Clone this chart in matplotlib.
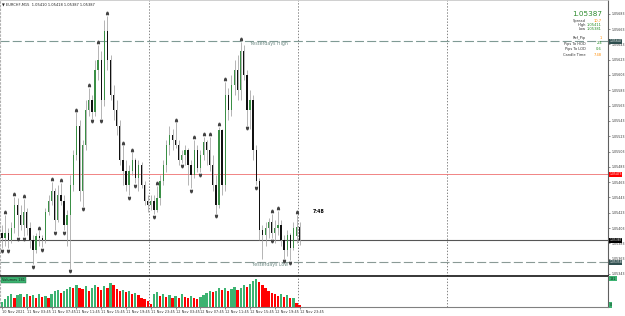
import matplotlib
matplotlib.use("Agg")
import matplotlib.pyplot as plt
import matplotlib.transforms as mtransforms
import numpy as np

# EURCHF M15 chart (one candle per half hour)
opens = [1.05397, 1.05390, 1.05397, 1.05387, 1.05403, 1.05433, 1.05420, 1.05407, 1.05424, 1.05403,
         1.05387, 1.05374, 1.05392, 1.05390, 1.05387, 1.05424, 1.05439, 1.05452, 1.05413, 1.05446,
         1.05439, 1.05407, 1.05420, 1.05459, 1.05498, 1.05537, 1.05452, 1.05511, 1.05557, 1.05570,
         1.05554, 1.05609, 1.05622, 1.05570, 1.05661, 1.05622, 1.05577, 1.05557, 1.05537, 1.05492,
         1.05478, 1.05459, 1.05478, 1.05492, 1.05468, 1.05485, 1.05459, 1.05439, 1.05433, 1.05439,
         1.05426, 1.05442, 1.05465, 1.05485, 1.05511, 1.05524, 1.05518, 1.05511, 1.05492, 1.05498,
         1.05505, 1.05485, 1.05472, 1.05505, 1.05481, 1.05498, 1.05515, 1.05505, 1.05485, 1.05459,
         1.05433, 1.05531, 1.05459, 1.05577, 1.05557, 1.05590, 1.05609, 1.05583, 1.05635, 1.05603,
         1.05557, 1.05570, 1.05505, 1.05465, 1.05400, 1.05394, 1.05403, 1.05411, 1.05397, 1.05403,
         1.05407, 1.05387, 1.05374, 1.05394, 1.05377, 1.05392, 1.05404]
highs = [1.05407, 1.05420, 1.05403, 1.05411, 1.05444, 1.05442, 1.05433, 1.05441, 1.05429, 1.05411,
         1.05394, 1.05397, 1.05400, 1.05394, 1.05429, 1.05446, 1.05463, 1.05455, 1.05459, 1.05462,
         1.05446, 1.05426, 1.05472, 1.05505, 1.05554, 1.05544, 1.05518, 1.05570, 1.05586, 1.05577,
         1.05622, 1.05642, 1.05635, 1.05675, 1.05680, 1.05629, 1.05590, 1.05570, 1.05544, 1.05511,
         1.05492, 1.05485, 1.05502, 1.05494, 1.05492, 1.05489, 1.05465, 1.05446, 1.05446, 1.05446,
         1.05458, 1.05472, 1.05492, 1.05518, 1.05537, 1.05533, 1.05541, 1.05518, 1.05505, 1.05511,
         1.05507, 1.05492, 1.05518, 1.05511, 1.05505, 1.05522, 1.05518, 1.05522, 1.05498, 1.05472,
         1.05535, 1.05533, 1.05594, 1.05586, 1.05603, 1.05622, 1.05629, 1.05646, 1.05642, 1.05609,
         1.05583, 1.05577, 1.05511, 1.05468, 1.05407, 1.05411, 1.05416, 1.05421, 1.05413, 1.05425,
         1.05413, 1.05394, 1.05400, 1.05396, 1.05411, 1.05420, 1.05411]
lows = [1.05377, 1.05380, 1.05377, 1.05384, 1.05397, 1.05392, 1.05400, 1.05392, 1.05394, 1.05377,
        1.05356, 1.05371, 1.05380, 1.05378, 1.05384, 1.05420, 1.05433, 1.05400, 1.05411, 1.05433,
        1.05400, 1.05380, 1.05350, 1.05452, 1.05492, 1.05439, 1.05431, 1.05505, 1.05550, 1.05546,
        1.05550, 1.05596, 1.05546, 1.05563, 1.05609, 1.05570, 1.05544, 1.05524, 1.05485, 1.05459,
        1.05452, 1.05446, 1.05472, 1.05462, 1.05452, 1.05455, 1.05433, 1.05424, 1.05426, 1.05421,
        1.05424, 1.05433, 1.05459, 1.05476, 1.05498, 1.05505, 1.05507, 1.05485, 1.05488, 1.05485,
        1.05459, 1.05455, 1.05468, 1.05476, 1.05476, 1.05492, 1.05485, 1.05478, 1.05452, 1.05422,
        1.05429, 1.05446, 1.05452, 1.05544, 1.05550, 1.05577, 1.05570, 1.05570, 1.05596, 1.05537,
        1.05533, 1.05492, 1.05459, 1.05387, 1.05363, 1.05380, 1.05390, 1.05390, 1.05384, 1.05394,
        1.05380, 1.05363, 1.05367, 1.05361, 1.05374, 1.05384, 1.05381]
closes = [1.05390, 1.05397, 1.05387, 1.05403, 1.05433, 1.05420, 1.05407, 1.05424, 1.05403, 1.05387,
          1.05374, 1.05392, 1.05390, 1.05387, 1.05424, 1.05439, 1.05452, 1.05413, 1.05446, 1.05439,
          1.05407, 1.05420, 1.05459, 1.05498, 1.05537, 1.05452, 1.05511, 1.05557, 1.05570, 1.05554,
          1.05609, 1.05622, 1.05570, 1.05661, 1.05622, 1.05577, 1.05557, 1.05537, 1.05492, 1.05478,
          1.05459, 1.05478, 1.05492, 1.05468, 1.05485, 1.05459, 1.05439, 1.05433, 1.05439, 1.05426,
          1.05442, 1.05465, 1.05485, 1.05511, 1.05524, 1.05518, 1.05511, 1.05492, 1.05498, 1.05505,
          1.05485, 1.05472, 1.05505, 1.05481, 1.05498, 1.05515, 1.05505, 1.05485, 1.05459, 1.05433,
          1.05531, 1.05459, 1.05577, 1.05557, 1.05590, 1.05609, 1.05583, 1.05635, 1.05603, 1.05557,
          1.05570, 1.05505, 1.05465, 1.05400, 1.05394, 1.05403, 1.05411, 1.05397, 1.05403, 1.05407,
          1.05387, 1.05374, 1.05394, 1.05377, 1.05403, 1.05404, 1.05387]
volumes = [30, 55, 72, 82, 62, 78, 88, 66, 82, 72,
           78, 62, 88, 66, 72, 56, 82, 102, 112, 92,
           108, 118, 132, 126, 142, 122, 116, 138, 106, 126,
           146, 132, 112, 138, 122, 160, 142, 116, 106, 112,
           96, 102, 82, 92, 76, 60, 50, 38, 18, 82,
           96, 72, 86, 66, 76, 56, 72, 62, 82, 66,
           56, 72, 62, 50, 66, 76, 92, 106, 96, 102,
           122, 112, 126, 106, 116, 132, 112, 122, 142, 132,
           150, 168, 181, 162, 142, 122, 106, 92, 82, 72,
           86, 66, 76, 56, 60, 26, 12]
fractal_up = [1, 4, 7, 12, 16, 19, 24, 28, 31, 34, 39, 42, 50, 56, 62, 65, 67, 70, 72, 77, 87, 89, 95]
fractal_down = [0, 2, 5, 7, 10, 13, 17, 20, 22, 26, 29, 32, 41, 43, 49, 58, 61, 64, 69, 79, 82, 87, 91, 93]
day_starts = [48, 96, 144]

time_labels = ["10 Nov 2021", "11 Nov 03:45", "11 Nov 07:45", "11 Nov 11:45", "11 Nov 15:45",
               "11 Nov 19:45", "11 Nov 23:45", "12 Nov 03:45", "12 Nov 07:45", "12 Nov 11:45",
               "12 Nov 15:45", "12 Nov 19:45", "12 Nov 23:45"]
time_label_idx = [0, 8, 16, 24, 32, 40, 48, 56, 64, 72, 80, 88, 96]
price_ticks = [1.05343, 1.05363, 1.05383, 1.05403, 1.05423, 1.05443, 1.05463, 1.05483, 1.05503,
               1.05523, 1.05543, 1.05563, 1.05583, 1.05603, 1.05623, 1.05643, 1.05663, 1.05683]

yest_high = 1.05647
yest_low = 1.05358
red_level = 1.05473
last_price = 1.05387

info_rows = [("Spread", "10.7", "#ff8c00"),
             ("High", "1.05411", "#228b22"),
             ("Low", "1.05381", "#228b22"),
             ("Ref_Pip", "1", "#ff8c00"),
             ("Pips To HOD", "2.4", "#228b22"),
             ("Pips To LOD", "0.6", "#228b22"),
             ("Candle Time", "7:48", "#ff8c00")]
info_y = [20.7, 25.2, 29.5, 38.3, 43.5, 49.3, 55.5]

plt.rcParams['lines.scale_dashes'] = False
W, H = 625, 316
fig = plt.figure(figsize=(W / 100, H / 100), dpi=100)
fig.patch.set_facecolor("white")


def put(px, py, s, **kw):
    return fig.text(px / W, 1 - py / H, s, **kw)


right_px = 608
ax = fig.add_axes([0, 1 - 275.5 / H, right_px / W, 275.5 / H])
axv = fig.add_axes([0, 1 - 307 / H, right_px / W, 30.5 / H])

bar_px = 3.1
x_lim = (-2 / bar_px, (right_px - 2) / bar_px)

n = len(closes)
x = np.arange(n)
o = np.array(opens)
c = np.array(closes)
hi = np.array(highs)
lo = np.array(lows)
bull = c >= o

# candles
ax.vlines(x, lo, hi, color="#a0a0a0", lw=0.55, zorder=3)
body_lo = np.minimum(o, c)
body_h = np.maximum(np.abs(c - o), 0.000012)
ax.bar(x, body_h, bottom=body_lo, width=0.45, color=np.where(bull, "#3a8f45", "#111111"),
       linewidth=0, zorder=4)

# fractals
up_tr = mtransforms.offset_copy(ax.transData, fig=fig, y=2.0, units="points")
dn_tr = mtransforms.offset_copy(ax.transData, fig=fig, y=-2.0, units="points")
ax.plot(fractal_up, hi[fractal_up], ls="none", marker=r"$\wedge$", ms=1.7, color="#454545",
        transform=up_tr, zorder=5)
ax.plot(fractal_down, lo[fractal_down], ls="none", marker=r"$\vee$", ms=1.7, color="#454545",
        transform=dn_tr, zorder=5)

# levels
ax.axhline(yest_high, color="#7f9a94", lw=0.8, dashes=(6.5, 2.3), zorder=2)
ax.axhline(yest_low, color="#8a9a96", lw=0.8, dashes=(6.5, 2.3), zorder=2)
ax.axhline(red_level, color="#ef7070", lw=0.6, zorder=2)
ax.axhline(last_price, color="#555555", lw=0.8, zorder=2)
ax.text(80, yest_high, "Yesterdays High", fontsize=3.4, color="#6e8a84", va="top", ha="left")
ax.text(80.6, yest_low, "Yesterdays Low", fontsize=3.4, color="#6e8a84", va="top", ha="left")
ax.text(100.3, 1.05424, "7:48", fontsize=3.4, color="black", fontweight="bold", va="center")

# day separators
for d in day_starts:
    for a in (ax, axv):
        a.axvline(d - 0.5, color="#707070", lw=0.6, ls=(0, (1, 1.2)), zorder=1)

ax.set_xlim(*x_lim)
ax.set_ylim(1.05341, 1.05701)
ax.set_xticks([])
ax.yaxis.tick_right()
ax.set_yticks(price_ticks)
ax.set_yticklabels(["%.5f" % t for t in price_ticks])
ax.tick_params(axis="y", labelsize=2.3, length=1.5, width=0.4, pad=1, colors="#333333")
ax.spines["top"].set_color("#c8c8c8")
ax.spines["top"].set_linewidth(0.6)
ax.spines["left"].set_color("#b0b0b0")
ax.spines["left"].set_linestyle(":")
ax.spines["right"].set_color("#606060")
ax.spines["right"].set_linewidth(0.8)
ax.spines["bottom"].set_color("black")
ax.spines["bottom"].set_linewidth(1.1)

# boxes on the price scale
box_tr = mtransforms.blended_transform_factory(ax.transAxes, ax.transData)
for lvl, fc in [(yest_high, "#2f4f4f"), (red_level, "#ff0000"), (last_price, "#000000"),
                (yest_low, "#2f4f4f")]:
    ax.text(1.002, lvl, "%.5f" % lvl, transform=box_tr, fontsize=2.2, color="white",
            va="center", ha="left", clip_on=False, zorder=6,
            bbox=dict(boxstyle="square,pad=0.15", fc=fc, ec="none"))

# volumes
vol = np.array(volumes)
vol_col = ["#3cb371"] + ["#3cb371" if vol[i] > vol[i - 1] else "#ff0000" for i in range(1, n)]
axv.bar(x, vol, width=0.75, color=vol_col, linewidth=0)
axv.set_xlim(*x_lim)
axv.set_ylim(0, 200)
axv.set_yticks([])
axv.set_xticks(time_label_idx)
axv.set_xticklabels(time_labels, ha="left")
axv.tick_params(axis="x", labelsize=2.5, length=1.5, width=0.4, pad=1, colors="#333333")
axv.spines["top"].set_visible(False)
axv.spines["left"].set_color("#b0b0b0")
axv.spines["left"].set_linestyle(":")
axv.spines["right"].set_color("#606060")
axv.spines["right"].set_linewidth(0.8)
axv.spines["bottom"].set_color("#808080")
axv.spines["bottom"].set_linewidth(0.8)
axv.text(0.004, 0.88, "Volumes 181", transform=axv.transAxes, fontsize=2.5, color="#1a1a1a",
         va="center", ha="left", bbox=dict(boxstyle="square,pad=0.3", fc="#3cb371", ec="#1e6b3e", lw=0.3))
put(609.5, 278.5, "181", fontsize=2.4, color="#0d2d1a", va="center",
    bbox=dict(boxstyle="square,pad=0.25", fc="#3cb371", ec="none"))
put(609.5, 305, "0", fontsize=2.4, color="#0d2d1a", va="center",
    bbox=dict(boxstyle="square,pad=0.25", fc="#3cb371", ec="none"))

# header and info panel
put(2, 4, "\u25bc EURCHF,M15  1.05410 1.05418 1.05387 1.05387", fontsize=2.6, color="#222222",
    va="center")
put(602, 14.5, "1.05387", fontsize=5.2, color="#2e8b2e", ha="right", va="center")
for (name, val, col), py in zip(info_rows, info_y):
    put(586, py, name, fontsize=2.6, color="#333333", ha="right", va="center")
    put(602, py, val, fontsize=2.6, color=col, ha="right", va="center")

fig.savefig("out.png", dpi=100, facecolor="white")
